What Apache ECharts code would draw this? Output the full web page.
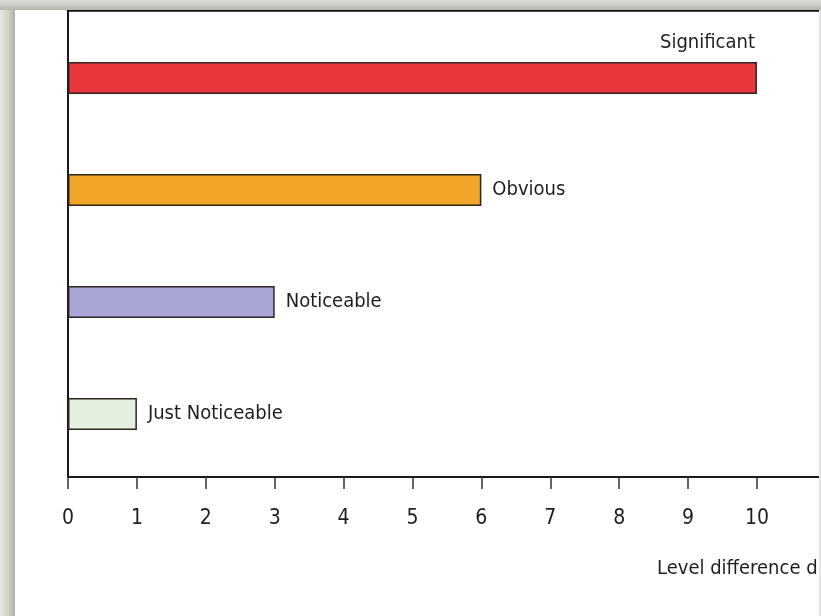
<!DOCTYPE html>
<html>
<head>
<meta charset="utf-8">
<script src="https://cdn.jsdelivr.net/npm/echarts@6/dist/echarts.min.js"></script>
<style>
  html, body { margin: 0; padding: 0; background: #ffffff; }
  #chart { width: 821px; height: 616px; }
</style>
</head>
<body>
<div id="chart"></div>
<script>
// Perceived loudness steps for a given level difference
const categories = ['Significant', 'Obvious', 'Noticeable', 'Just Noticeable'];
const levelDiff = [10, 6, 3, 1];
const barColors = ['#e8363c', '#f0a526', '#a9a5d6', '#e3efdf'];
const xTicks = [0, 1, 2, 3, 4, 5, 6, 7, 8, 9, 10];
const xTitle = 'Level difference dB';

// the axis runs on past 10 and is cut off by the right edge
const X_MAX = 10.93;

const FONT = "'Liberation Sans Narrow', 'DejaVu Sans Condensed', sans-serif";
const INK = '#1e1e1e';

const chart = echarts.init(document.getElementById('chart'), null, { renderer: 'canvas' });

const barData = levelDiff.map((v, i) => {
  const item = {
    value: v,
    itemStyle: { color: barColors[i] }
  };
  if (i === 0) {
    // the longest bar carries its label above the right end
    item.label = {
      position: ['100%', 0],
      align: 'right',
      verticalAlign: 'bottom',
      offset: [-2, -9]
    };
  }
  return item;
});

const option = {
  backgroundColor: '#ffffff',
  animation: false,
  title: {
    text: xTitle,
    left: 652,
    top: 554,
    textStyle: { fontFamily: FONT, fontSize: 20, fontWeight: 'normal', color: INK }
  },
  graphic: [
    {
      type: 'rect', z: 100,
      shape: { x: 0, y: 0, width: 15, height: 616 },
      style: {
        fill: new echarts.graphic.LinearGradient(0, 0, 1, 0, [
          { offset: 0, color: '#e6e7e0' },
          { offset: 0.5, color: '#d3d5c9' },
          { offset: 1, color: '#aeb1a5' }
        ])
      }
    },
    {
      type: 'rect', z: 100,
      shape: { x: 0, y: 0, width: 821, height: 10 },
      style: {
        fill: new echarts.graphic.LinearGradient(0, 0, 0, 1, [
          { offset: 0, color: '#dfdfd9' },
          { offset: 0.5, color: '#cdcdc6' },
          { offset: 1, color: '#b5b5ad' }
        ])
      }
    },
    {
      type: 'rect', z: 100,
      shape: { x: 819, y: 10, width: 2, height: 606 },
      style: { fill: '#e4e4e4' }
    }
  ],
  grid: [
    // frame of the plot: axes and ticks
    { left: 68, right: 0, top: 10, bottom: 139, containLabel: false },
    // band area holding the bars
    { left: 68, right: 0, top: 22, bottom: 146, containLabel: false }
  ],
  xAxis: [
    {
      gridIndex: 0,
      type: 'value',
      min: 0,
      max: X_MAX,
      interval: 1,
      position: 'bottom',
      axisLine: { show: true, onZero: false, lineStyle: { color: '#1a1a1a', width: 2 } },
      axisTick: {
        show: true, length: 12, customValues: xTicks,
        lineStyle: { color: '#333333', width: 1.5 }
      },
      splitLine: { show: false },
      axisLabel: {
        margin: 31,
        customValues: xTicks,
        fontFamily: FONT,
        fontSize: 21,
        color: INK
      }
    },
    {
      gridIndex: 0,
      type: 'value',
      min: 0,
      max: X_MAX,
      position: 'top',
      axisLine: { show: true, onZero: false, lineStyle: { color: '#111111', width: 2.5 } },
      axisTick: { show: false },
      axisLabel: { show: false },
      splitLine: { show: false }
    },
    {
      gridIndex: 1,
      type: 'value',
      min: 0,
      max: X_MAX,
      show: false
    }
  ],
  yAxis: [
    {
      gridIndex: 0,
      type: 'value',
      min: 0,
      max: 1,
      axisLine: { show: true, onZero: false, lineStyle: { color: '#1a1a1a', width: 2 } },
      axisTick: { show: false },
      axisLabel: { show: false },
      splitLine: { show: false }
    },
    {
      gridIndex: 1,
      type: 'category',
      data: categories,
      inverse: true,
      show: false
    }
  ],
  series: [
    {
      type: 'bar',
      xAxisIndex: 2,
      yAxisIndex: 1,
      data: barData,
      barWidth: 32,
      itemStyle: { borderColor: '#2e2420', borderWidth: 1.5 },
      label: {
        show: true,
        position: 'right',
        distance: 11,
        formatter: '{b}',
        fontFamily: FONT,
        fontSize: 20,
        color: INK
      }
    }
  ]
};

chart.setOption(option);
</script>
</body>
</html>
